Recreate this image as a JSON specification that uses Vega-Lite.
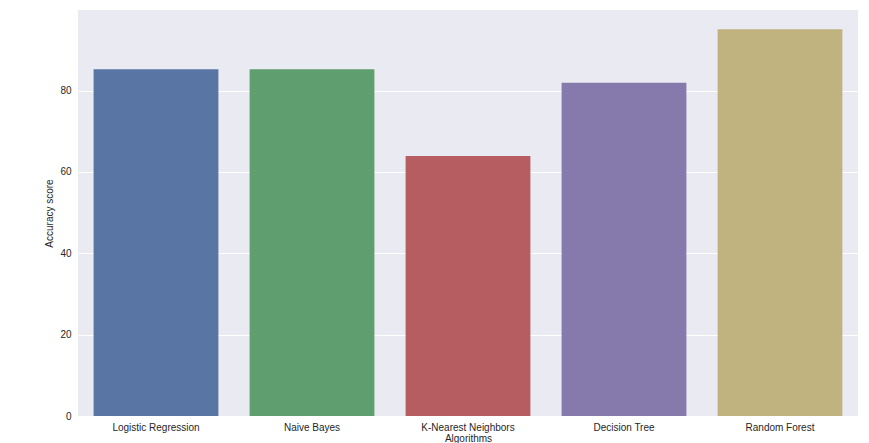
{
  "$schema": "https://vega.github.io/schema/vega-lite/v6.json",
  "autosize": {"type": "none"},
  "width": 780,
  "height": 406,
  "padding": {"left": 78, "top": 10, "right": 11, "bottom": 27},
  "background": "white",
  "config": {
    "view": {"fill": "#EAEAF2", "stroke": null},
    "font": "Liberation Sans",
    "axis": {"domain": false, "ticks": false, "labelColor": "#262626", "titleColor": "#262626", "labelFontSize": 10, "titleFontSize": 10, "titleFontWeight": "normal", "gridColor": "white", "gridWidth": 1}
  },
  "data": {
    "values": [
      {"algorithm": "Logistic Regression", "score": 85.25},
      {"algorithm": "Naive Bayes", "score": 85.25},
      {"algorithm": "K-Nearest Neighbors", "score": 63.93},
      {"algorithm": "Decision Tree", "score": 81.97},
      {"algorithm": "Random Forest", "score": 95.08}
    ]
  },
  "mark": {"type": "bar"},
  "encoding": {
    "x": {
      "field": "algorithm", "type": "nominal", "sort": null,
      "scale": {"paddingInner": 0.2, "paddingOuter": 0.1},
      "axis": {"title": "Algorithms", "labelAngle": 0, "labelPadding": 6, "titlePadding": 1, "grid": false}
    },
    "y": {
      "field": "score", "type": "quantitative",
      "scale": {"domain": [0, 99.83], "nice": false},
      "axis": {"title": "Accuracy score", "values": [0, 20, 40, 60, 80], "labelPadding": 7, "titlePadding": 5, "grid": true}
    },
    "color": {
      "field": "algorithm", "type": "nominal", "sort": null, "legend": null,
      "scale": {"domain": ["Logistic Regression", "Naive Bayes", "K-Nearest Neighbors", "Decision Tree", "Random Forest"],
                "range": ["#5975A4", "#5F9E6E", "#B55D60", "#857AAB", "#C1B37F"]}
    }
  }
}
